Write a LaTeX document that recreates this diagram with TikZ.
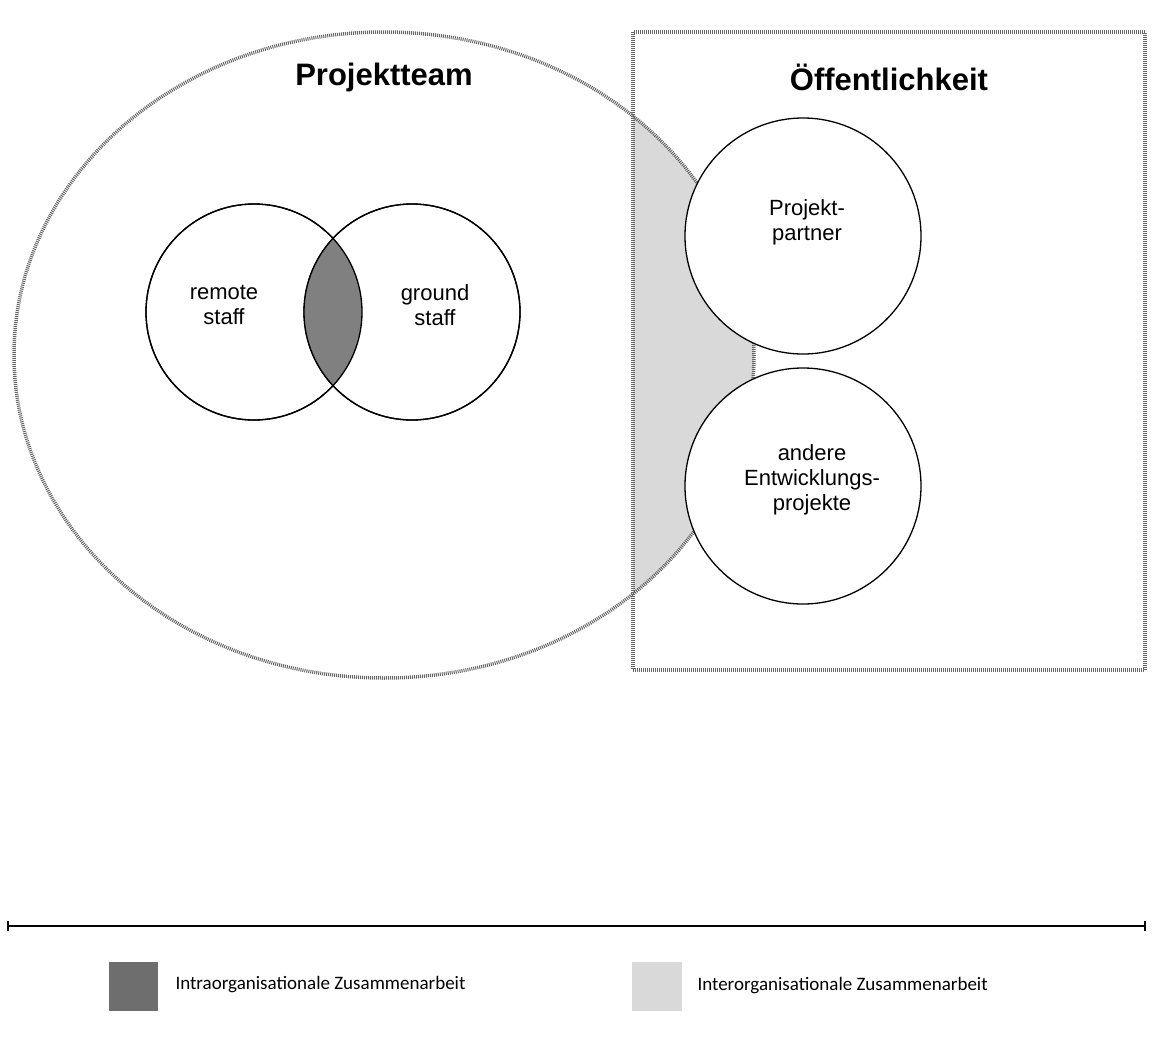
\documentclass[tikz,border=0pt]{standalone}
\usepackage{fontspec}
\setmainfont{Liberation Sans}
\newfontfamily\legfont{Carlito}
\begin{document}
\begin{tikzpicture}[x=1pt,y=-1pt,
  hatch/.style={draw=gray!80!black,line width=3.5pt,dash pattern=on 1pt off 1pt},
  circ/.style={circle,draw=black,line width=1.3pt,fill=white},
  lbl/.style={font=\fontsize{22}{25}\selectfont,align=center},
  ttl/.style={font=\fontsize{31}{34}\selectfont\bfseries},
  leg/.style={font=\legfont\fontsize{19}{22}\selectfont,anchor=west}]
\useasboundingbox (0,0) rectangle (1163,1042);
% grey intersection
\begin{scope}
  \clip (633,32) rectangle (1145,670);
  \fill[gray!30] (384,355) ellipse [x radius=370,y radius=323];
\end{scope}
\draw[hatch] (384,355) ellipse [x radius=370,y radius=323];
\draw[hatch] (633,32) rectangle (1145,670);
\node[circ,minimum size=236pt] (pp) at (803,236) {};
\node[circ,minimum size=236pt] (ae) at (803,486) {};
\node[lbl] at (807,222) {Projekt-\\partner};
\node[lbl] at (812,480) {andere\\Entwicklungs-\\projekte};
\node[circ,minimum size=216pt] (rs) at (254,312) {};
\node[circ,minimum size=216pt] (gs) at (412,312) {};
\begin{scope}
  \clip (254,312) circle (108);
  \fill[gray!110!black,fill=gray] (412,312) circle (108);
\end{scope}
\fill[fill=black!57] ;
\draw[line width=1.3pt] (254,312) circle (108);
\draw[line width=1.3pt] (412,312) circle (108);
\node[lbl] at (224,305) {remote\\staff};
\node[lbl] at (435,305) {ground\\staff};
\node[ttl] at (384,77) {Projektteam};
\node[ttl] at (889,77) {Öffentlichkeit};
% axis
\coordinate (l) at (8,926); \coordinate (r) at (1145,926);
\draw[line width=1.2pt] (l) -- (r);
\draw[line width=1.2pt] (8,921) -- (8,931) (1145,921) -- (1145,931);
\fill[black!57] (109,962) rectangle (158,1011);
\fill[gray!30] (632,962) rectangle (682,1011);
\node[leg] at (172,985) {Intraorganisationale Zusammenarbeit};
\node[leg] at (694,986) {Interorganisationale Zusammenarbeit};
\end{tikzpicture}
\end{document}
